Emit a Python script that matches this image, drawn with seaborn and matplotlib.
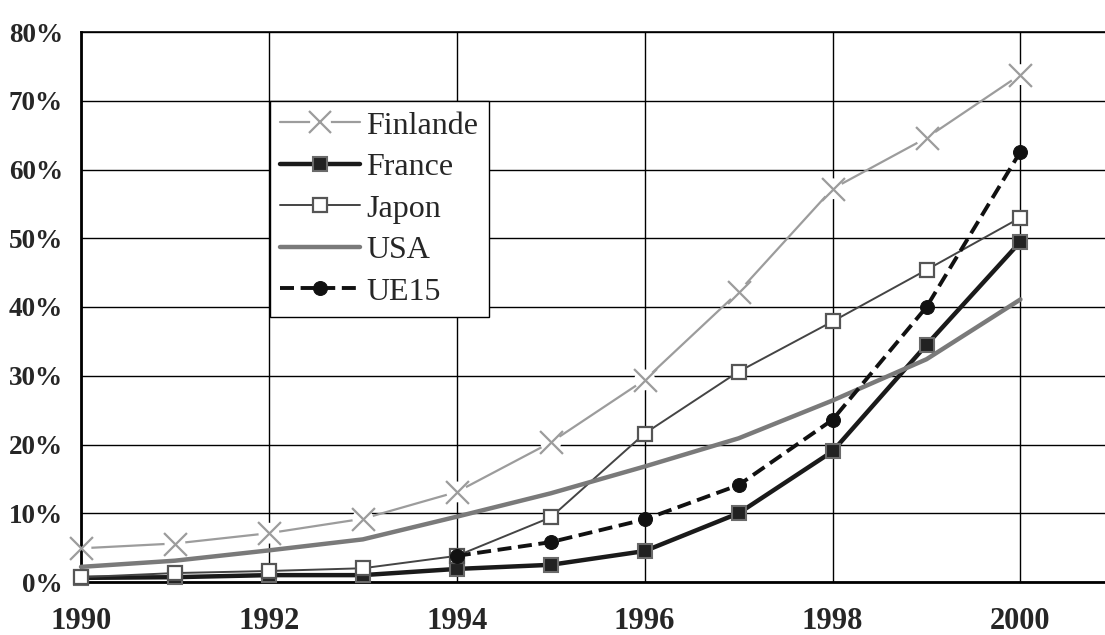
import numpy as np
import pandas as pd
import matplotlib
matplotlib.use("Agg")
import matplotlib.pyplot as plt
import seaborn as sns
from matplotlib.lines import Line2D
from matplotlib.ticker import PercentFormatter

years = list(range(1990, 2001))
finlande = [4.9, 5.6, 7.1, 9.2, 13.1, 20.3, 29.4, 42.2, 57.2, 64.6, 73.8]
france = [0.6, 0.7, 1.0, 1.0, 1.9, 2.5, 4.5, 10.0, 19.0, 34.5, 49.5]
japon = [0.7, 1.3, 1.6, 2.0, 3.8, 9.4, 21.6, 30.6, 37.9, 45.4, 53.0]
usa = [2.2, 3.1, 4.6, 6.2, 9.5, 12.9, 16.8, 20.9, 26.4, 32.4, 41.1]
ue15 = [np.nan, np.nan, np.nan, np.nan, 3.8, 5.8, 9.1, 14.1, 23.6, 40.0, 62.6]

df = pd.DataFrame({"annee": years, "Finlande": finlande, "France": france,
                   "Japon": japon, "USA": usa, "UE15": ue15})

sns.set_style("white")
plt.rcParams['font.family'] = ['Liberation Serif', 'DejaVu Serif']

fig = plt.figure(figsize=(11.05, 6.35), dpi=100)
ax = fig.add_axes([81 / 1105, 1 - 582 / 635, 1 - 81 / 1105, 550 / 635])

gris_fin = "#9c9c9c"
styles = {
    "France": dict(color="#1a1a1a", lw=3.2, marker="s", ms=9.5, mfc="#222222", mec="#6a6a6a", mew=1.5),
    "Japon": dict(color="#444444", lw=1.4, marker="s", ms=9.5, mfc="white", mec="#555555", mew=1.6),
    "USA": dict(color="#7a7a7a", lw=3.2),
    "UE15": dict(color="#111111", lw=2.8, marker="o", ms=10, mec="#111111", dashes=(3.6, 1.7)),
}

# Finlande : ligne, puis un fond blanc sous chaque croix (coupure de la ligne)
sns.lineplot(data=df, x="annee", y="Finlande", ax=ax, color=gris_fin, lw=1.6,
             clip_on=False, zorder=2)
sns.scatterplot(data=df, x="annee", y="Finlande", ax=ax, marker="o", s=15 ** 2,
                color="white", edgecolor="none", clip_on=False, zorder=2.5)
sns.scatterplot(data=df, x="annee", y="Finlande", ax=ax, marker="x", s=16.5 ** 2,
                color=gris_fin, linewidths=1.6, clip_on=False, zorder=2.6)

for name in ["France", "Japon", "USA", "UE15"]:
    sns.lineplot(data=df, x="annee", y=name, ax=ax, label=name, clip_on=False,
                 zorder=3, **styles[name])

ax.set_xlim(1990, 2000.9)
ax.set_ylim(0, 80)
ax.set_xticks(range(1990, 2001, 2))
ax.set_yticks(range(0, 81, 10))
ax.yaxis.set_major_formatter(PercentFormatter(decimals=0))
ax.set_xlabel("")
ax.set_ylabel("")

ax.grid(True, color="black", lw=1)
ax.set_axisbelow(True)
for s in ["left", "bottom"]:
    ax.spines[s].set_color("black")
    ax.spines[s].set_linewidth(2)
ax.spines["top"].set_color("black")
ax.spines["top"].set_linewidth(1.2)
ax.spines["right"].set_visible(False)

ax.tick_params(axis="both", direction="out", length=6, width=1, color="black")
ax.tick_params(axis="y", labelsize=19.5, pad=7)
ax.tick_params(axis="x", labelsize=22, pad=12)
for lab in ax.get_xticklabels() + ax.get_yticklabels():
    lab.set_fontweight("bold")

# légende
h_fin = (Line2D([], [], color=gris_fin, lw=1.6),
         Line2D([], [], ls="none", marker="o", ms=15, mfc="white", mec="none"),
         Line2D([], [], ls="none", marker="x", ms=16.5, mec=gris_fin, mew=1.6))
handles, labels = ax.get_legend_handles_labels()
handles = [h_fin] + handles
labels = ["Finlande"] + labels

leg = ax.legend(handles, labels, loc="upper left",
                bbox_to_anchor=((270 - 81) / 1024, (582 - 101) / 550),
                borderaxespad=0, frameon=True, fancybox=False, framealpha=1,
                prop={"family": "Liberation Serif", "size": 23},
                handlelength=2.5, handletextpad=0.2, labelspacing=0.38,
                borderpad=0.32)
leg.get_frame().set_edgecolor("black")
leg.get_frame().set_linewidth(1)

plt.savefig("out.png", dpi=100)
